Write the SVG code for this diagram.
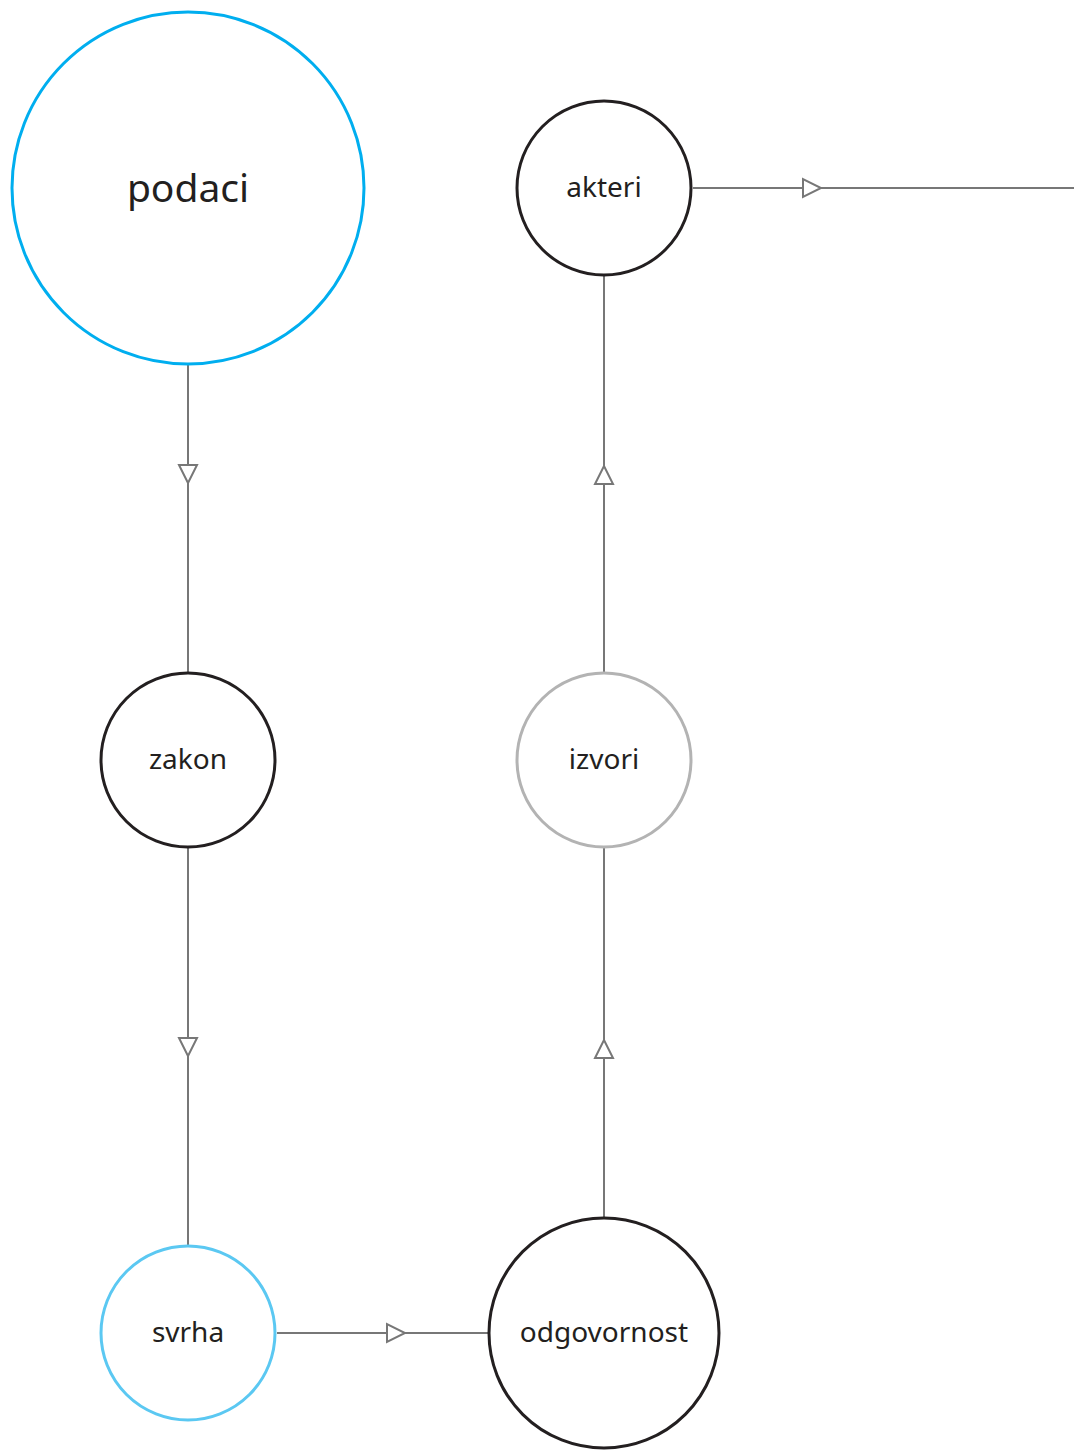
<svg xmlns="http://www.w3.org/2000/svg" width="1074" height="1451" viewBox="0 0 1074 1451">
<style>
.node{fill:#fff;stroke-width:3}
.dark{stroke:#231f20}
.big{stroke:#00aeef}
.light{stroke:#5bc8f2}
.grey{stroke:#b3b3b3}
.lbl{font-family:"Noto Sans","Open Sans",sans-serif;fill:#231f20;text-anchor:middle;dominant-baseline:central}
.edge{stroke:#777;stroke-width:2;fill:none}
.head{stroke:#777;stroke-width:2;fill:#fff;stroke-linejoin:miter}
</style>
<rect width="1074" height="1451" fill="#fff"/>
<g id="connectors">
<line class="edge" x1="188" y1="365" x2="188" y2="673"/>
<polygon class="head" points="179,465 197,465 188,483"/>
<line class="edge" x1="188" y1="848" x2="188" y2="1246"/>
<polygon class="head" points="179,1038 197,1038 188,1056"/>
<line class="edge" x1="277" y1="1333" x2="489" y2="1333"/>
<polygon class="head" points="387,1324 387,1342 405,1333"/>
<line class="edge" x1="604" y1="1218" x2="604" y2="848"/>
<polygon class="head" points="595,1058 613,1058 604,1040"/>
<line class="edge" x1="604" y1="672" x2="604" y2="276"/>
<polygon class="head" points="595,484 613,484 604,466"/>
<line class="edge" x1="693" y1="188" x2="1074" y2="188"/>
<polygon class="head" points="803,179 803,197 821,188"/>
</g>
<g id="podaci">
<circle class="node big" cx="188" cy="188" r="176"/>
<text class="lbl" x="188" y="186" font-size="39">podaci</text>
</g>
<g id="akteri">
<circle class="node dark" cx="604" cy="188" r="87"/>
<text class="lbl" x="604" y="186" font-size="28">akteri</text>
</g>
<g id="zakon">
<circle class="node dark" cx="188" cy="760" r="87"/>
<text class="lbl" x="188" y="758" font-size="28">zakon</text>
</g>
<g id="izvori">
<circle class="node grey" cx="604" cy="760" r="87"/>
<text class="lbl" x="604" y="758" font-size="28">izvori</text>
</g>
<g id="svrha">
<circle class="node light" cx="188" cy="1333" r="87"/>
<text class="lbl" x="188" y="1331" font-size="28">svrha</text>
</g>
<g id="odgovornost">
<circle class="node dark" cx="604" cy="1333" r="115"/>
<text class="lbl" x="604" y="1331" font-size="28">odgovornost</text>
</g>
</svg>
